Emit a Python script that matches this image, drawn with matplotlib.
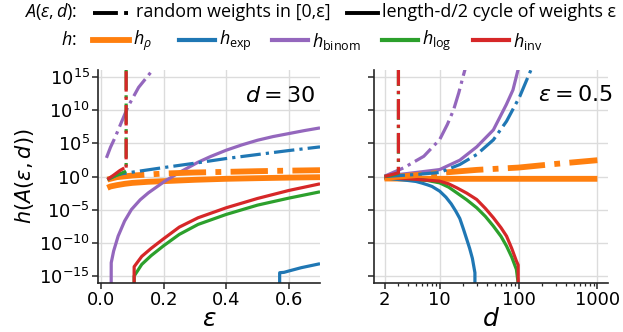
import numpy as np
import matplotlib
matplotlib.use("Agg")
import matplotlib.pyplot as plt
from matplotlib.lines import Line2D
from matplotlib.font_manager import FontProperties
from matplotlib.ticker import NullLocator, FixedLocator, FixedFormatter, LogLocator

plt.rcParams['font.family'] = ['DejaVu Sans']
plt.rcParams['mathtext.fontset'] = 'dejavusans'
plt.rcParams['mathtext.rm'] = 'Open Sans'
plt.rcParams['mathtext.it'] = 'Open Sans:italic'
plt.rcParams['mathtext.bf'] = 'Open Sans:bold'
plt.rcParams['mathtext.sf'] = 'Open Sans'

# ---------------- data : left panel, d = 30, x = epsilon ----------------
# cycle graphs (solid)
eps_rho_cyc = [0.02, 0.03, 0.05, 0.075, 0.1, 0.15, 0.2, 0.3, 0.4, 0.5, 0.6, 0.7]
val_rho_cyc = [2.0e-2, 3.2e-2, 5.0e-2, 7.9e-2, 0.11, 0.16, 0.2, 0.32, 0.45, 0.56, 0.68, 0.79]
eps_exp_cyc = [0.57, 0.571, 0.585, 0.6, 0.64, 0.7]
val_exp_cyc = [1e-40, 3.5e-15, 4.0e-15, 6.3e-15, 2.0e-14, 7.9e-14]
eps_binom_cyc = [0.031, 0.0323, 0.04, 0.0544, 0.075, 0.097, 0.125, 0.151, 0.204,
                 0.25, 0.31, 0.35, 0.4, 0.45, 0.5, 0.55, 0.6, 0.65, 0.7]
val_binom_cyc = [1e-40, 1.1e-13, 6.3e-12, 1.1e-9, 2.0e-7, 1.1e-5, 3.2e-4, 3.5e-3, 0.2,
                 4.0, 1.4e2, 1.0e3, 8.9e3, 5.6e4, 2.8e5, 1.0e6, 2.8e6, 7.9e6, 2.0e7]
eps_log_cyc = [0.105, 0.1056, 0.13, 0.16, 0.2, 0.25, 0.31, 0.4, 0.5, 0.6, 0.7]
val_log_cyc = [1e-40, 1.1e-15, 6.3e-14, 1.3e-12, 4.0e-11, 2.0e-9, 6.3e-8, 2.0e-6,
               5.0e-5, 5.6e-4, 5.0e-3]
eps_inv_cyc = [0.105, 0.1056, 0.13, 0.16, 0.2, 0.25, 0.31, 0.4, 0.5, 0.6, 0.7]
val_inv_cyc = [1e-40, 2.8e-14, 1.0e-12, 1.6e-11, 4.5e-10, 2.5e-8, 6.3e-7, 2.0e-5,
               5.0e-4, 7.9e-3, 7.9e-2]
# random weights (dash-dot)
eps_rho_rnd = [0.02, 0.05, 0.1, 0.2, 0.3, 0.4, 0.5, 0.6, 0.7]
val_rho_rnd = [0.35, 0.79, 1.4, 2.8, 4.0, 5.0, 6.3, 7.6, 8.9]
eps_exp_rnd = [0.02, 0.05, 0.07, 0.1, 0.2, 0.3, 0.4, 0.5, 0.6, 0.7]
val_exp_rnd = [0.35, 1.6, 2.8, 4.5, 22.0, 1.0e2, 5.0e2, 2.0e3, 7.9e3, 2.8e4]
eps_binom_rnd = [0.017, 0.03, 0.044, 0.06, 0.086, 0.12, 0.17]
val_binom_rnd = [6.3e2, 2.5e4, 6.3e5, 4.0e7, 3.2e10, 2.5e13, 2.0e16]
eps_log_rnd = [0.02, 0.04, 0.06, 0.075, 0.08, 0.08]
val_log_rnd = [0.35, 1.0, 2.5, 5.0, 6.3, 1e40]
eps_inv_rnd = [0.02, 0.04, 0.06, 0.075, 0.08, 0.08]
val_inv_rnd = [0.35, 1.6, 7.9, 20.0, 10.0, 1e40]

# ---------------- data : right panel, eps = 0.5, x = d ----------------
d_rho_cyc = [2, 5, 10, 100, 1000]
v_rho_cyc = [0.5, 0.47, 0.45, 0.45, 0.45]
d_exp_cyc = [2, 3, 4, 5, 6, 7, 8, 10, 12, 14, 16, 18, 20, 22, 24, 26, 28, 28.1]
v_exp_cyc = [0.63, 0.35, 0.25, 0.18, 0.1, 5.6e-2, 3.2e-2, 6.3e-3, 7.9e-4, 7.9e-5,
             6.3e-6, 5.0e-7, 1.3e-8, 4.0e-10, 1.6e-11, 5.0e-13, 3.5e-15, 1e-40]
d_binom_cyc = [2, 5, 10, 18, 29.5, 48, 70, 85, 99]
v_binom_cyc = [1.1, 4.0, 11.0, 2.8e2, 2.8e4, 1.0e7, 6.3e10, 1.0e13, 1.3e16]
d_log_cyc = [2, 3, 5, 7, 10, 13, 16.5, 22, 29.5, 38, 48, 60, 70.5, 82, 94, 100]
v_log_cyc = [0.63, 0.56, 0.4, 0.25, 0.11, 2.5e-2, 3.5e-3, 3.2e-4, 2.0e-5, 1.0e-6,
             3.5e-8, 1.0e-9, 3.5e-11, 7.9e-13, 1.1e-14, 3.2e-17]
d_inv_cyc = [2, 4, 7, 10, 13, 16.5, 22, 29.5, 38, 48, 60, 70.5, 82, 94, 99, 100]
v_inv_cyc = [0.63, 0.45, 0.28, 0.2, 7.9e-2, 2.0e-2, 3.2e-3, 3.5e-4, 1.6e-5, 6.3e-7,
             2.0e-8, 1.1e-9, 1.6e-11, 2.0e-13, 5.0e-14, 1e-40]
d_rho_rnd = [2, 5, 10, 30, 100, 300, 1000]
v_rho_rnd = [0.63, 1.6, 3.5, 10.0, 22.0, 79.0, 2.8e2]
d_exp_rnd = [2, 5, 10, 18, 29.5, 48, 70.5, 103.5, 145]
v_exp_rnd = [1.0, 2.0, 4.0, 63.0, 2.0e3, 3.2e5, 2.0e8, 1.0e12, 1.3e16]
d_binom_rnd = [2, 3.5, 6.3, 10, 12.5, 15, 17.5, 20, 21]
v_binom_rnd = [1.1, 20.0, 1.1e3, 3.5e5, 6.3e7, 1.0e10, 4.0e12, 1.6e15, 1.3e16]
d_log_rnd = [2, 2.5, 3.0, 3.0]
v_log_rnd = [1.0, 1.6, 3.0, 1e40]
d_inv_rnd = [2, 2.5, 3.0, 3.0]
v_inv_rnd = [1.0, 2.0, 3.5, 1e40]

C = {'rho': '#ff7f0e', 'exp': '#1f77b4', 'binom': '#9467bd', 'log': '#2ca02c', 'inv': '#d62728'}
LW = {'rho': 4.2, 'exp': 2.3, 'binom': 2.3, 'log': 2.3, 'inv': 2.3}

W, H = 623, 332
fig = plt.figure(figsize=(W / 100, H / 100), dpi=100)
ax1 = fig.add_axes([98 / W, 1 - 283 / H, (320 - 98) / W, (283 - 70) / H])
ax2 = fig.add_axes([374 / W, 1 - 283 / H, (608 - 374) / W, (283 - 70) / H], sharey=ax1)

left_cyc = {'rho': (eps_rho_cyc, val_rho_cyc), 'exp': (eps_exp_cyc, val_exp_cyc),
            'binom': (eps_binom_cyc, val_binom_cyc), 'log': (eps_log_cyc, val_log_cyc),
            'inv': (eps_inv_cyc, val_inv_cyc)}
left_rnd = {'rho': (eps_rho_rnd, val_rho_rnd), 'exp': (eps_exp_rnd, val_exp_rnd),
            'binom': (eps_binom_rnd, val_binom_rnd), 'log': (eps_log_rnd, val_log_rnd),
            'inv': (eps_inv_rnd, val_inv_rnd)}
right_cyc = {'rho': (d_rho_cyc, v_rho_cyc), 'exp': (d_exp_cyc, v_exp_cyc),
             'binom': (d_binom_cyc, v_binom_cyc), 'log': (d_log_cyc, v_log_cyc),
             'inv': (d_inv_cyc, v_inv_cyc)}
right_rnd = {'rho': (d_rho_rnd, v_rho_rnd), 'exp': (d_exp_rnd, v_exp_rnd),
             'binom': (d_binom_rnd, v_binom_rnd), 'log': (d_log_rnd, v_log_rnd),
             'inv': (d_inv_rnd, v_inv_rnd)}

for ax, cyc, rnd in [(ax1, left_cyc, left_rnd), (ax2, right_cyc, right_rnd)]:
    for k in ['rho', 'exp', 'binom', 'log', 'inv']:
        x, y = cyc[k]
        ax.plot(x, y, color=C[k], lw=LW[k], ls='-', solid_capstyle='butt')
    for k in ['rho', 'exp', 'binom', 'log', 'inv']:
        x, y = rnd[k]
        ax.plot(x, y, color=C[k], lw=LW[k], ls='-.')

ax1.set_yscale('log')
ax1.set_ylim(1e-16, 1e16)
yt = [1e-15, 1e-10, 1e-5, 1e0, 1e5, 1e10, 1e15]
ax1.yaxis.set_major_locator(FixedLocator(yt))
ax1.yaxis.set_minor_locator(NullLocator())
ax1.set_yticklabels([r'$10^{-15}$', r'$10^{-10}$', r'$10^{-5}$', r'$10^{0}$',
                     r'$10^{5}$', r'$10^{10}$', r'$10^{15}$'])
ax1.set_xlim(-0.01, 0.7)
ax1.set_xticks([0.0, 0.2, 0.4, 0.6])
ax1.set_xticklabels(['0.0', '0.2', '0.4', '0.6'])

ax2.set_xscale('log')
ax2.set_xlim(1.47, 1364)
ax2.xaxis.set_major_locator(FixedLocator([2, 10, 100, 1000]))
ax2.xaxis.set_major_formatter(FixedFormatter(['2', '10', '100', '1000']))
ax2.xaxis.set_minor_locator(LogLocator(base=10, subs=np.arange(2, 10)))
ax2.tick_params(axis='y', labelleft=False)

for ax in (ax1, ax2):
    ax.grid(True, which='major', color='#dcdcdc', lw=1.0)
    ax.set_axisbelow(True)
    for s in ('top', 'right'):
        ax.spines[s].set_visible(False)
    for s in ('left', 'bottom'):
        ax.spines[s].set_linewidth(1.2)
        ax.spines[s].set_color('#262626')
    ax.tick_params(which='major', labelsize=13, length=4, width=1.1, color='#262626', pad=2)
    ax.tick_params(which='minor', length=2.5, width=0.9, color='#262626')

ax1.set_xlabel(r'$\varepsilon$', fontsize=18, labelpad=-2, math_fontfamily='dejavusans')
ax2.set_xlabel(r'$d$', fontsize=18, labelpad=-2, math_fontfamily='dejavusans')
ax1.set_ylabel(r'$h(A(\varepsilon, d))$', fontsize=15, labelpad=2, math_fontfamily='dejavusans')

fig.text(315 / W, 1 - 96 / H, r'$d = 30$', fontsize=16, ha='right', va='center',
         math_fontfamily='dejavusans')
fig.text(613 / W, 1 - 95 / H, r'$\varepsilon = 0.5$', fontsize=16, ha='right', va='center',
         math_fontfamily='dejavusans')

# ---------------- legend (figure level) ----------------
lp = FontProperties(family='Open Sans', size=12.9, math_fontfamily='custom')


def hline(x0, x1, y, **kw):
    fig.add_artist(Line2D([x0 / W, x1 / W], [1 - y / H, 1 - y / H],
                          transform=fig.transFigure, **kw))


def ftext(x, y, s, ha='left'):
    fig.text(x / W, 1 - y / H, s, fontproperties=lp, ha=ha, va='center')


r1, r2 = 12, 40
ftext(77, r1, r'$A(\varepsilon, d)$:', ha='right')
hline(93, 130, r1 + 1, color='black', lw=2.8, ls='-.')
ftext(136, r1, 'random weights in [0,ε]')
hline(347, 378, r1 + 1, color='black', lw=2.8, ls='-')
ftext(382, r1, 'length-d/2 cycle of weights ε')

ftext(77, r2, r'$h$:', ha='right')
leg_items = [('rho', 93, r'$h_\rho$'), ('exp', 179, r'$h_{\mathrm{exp}}$'),
             ('binom', 272, r'$h_{\mathrm{binom}}$'), ('log', 382, r'$h_{\mathrm{log}}$'),
             ('inv', 473, r'$h_{\mathrm{inv}}$')]
for k, x0, lab in leg_items:
    hline(x0, x0 + 36, r2, color=C[k], lw=4.2 if k == 'rho' else 3.0)
    ftext(x0 + 40, r2 + 1, lab)

fig.savefig('out.png', dpi=100)
